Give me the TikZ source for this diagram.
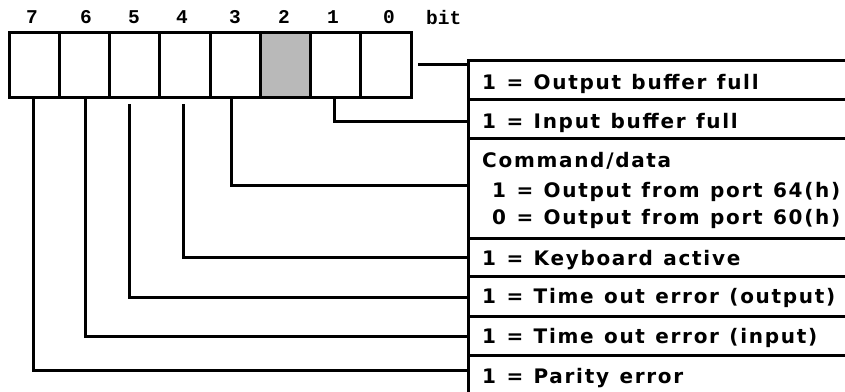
\documentclass[tikz,border=0pt]{standalone}
\usepackage{fontspec}
\setmainfont{DejaVu Sans}
\newfontfamily\lblfont{DejaVu Sans}[LetterSpace=8.5,WordSpace=1.2]
\newfontfamily\bitfont{Liberation Mono}
\begin{document}
\begin{tikzpicture}[x=1pt,y=-1pt,
  cell/.style={draw,line width=3pt,minimum width=50.25pt,minimum height=65pt,inner sep=0pt,outer sep=0pt},
  shaded/.style={cell,fill=gray!55},
  row/.style={draw,line width=3pt,anchor=north west,minimum width=420pt,inner sep=0pt,outer sep=0pt},
  conn/.style={line width=3pt,line join=miter},
  bitlbl/.style={anchor=base,inner sep=0pt,font=\bitfont\bfseries\fontsize{19.5}{22}\selectfont},
  txt/.style={anchor=base west,inner sep=0pt,font=\lblfont\bfseries\fontsize{20}{24}\selectfont}]
\useasboundingbox (0,0) rectangle (845,391);
% register cells
\node[cell] (c7) at (34.125,64.5) {};
\node[cell] (c6) at (84.375,64.5) {};
\node[cell] (c5) at (134.625,64.5) {};
\node[cell] (c4) at (184.875,64.5) {};
\node[cell] (c3) at (235.125,64.5) {};
\node[shaded] (c2) at (285.375,64.5) {};
\node[cell] (c1) at (335.625,64.5) {};
\node[cell] (c0) at (385.875,64.5) {};
% bit numbers
\node[bitlbl] (n7) at (32,23.5) {7};
\node[bitlbl] (n6) at (86,23.5) {6};
\node[bitlbl] (n5) at (134,23.5) {5};
\node[bitlbl] (n4) at (182,23.5) {4};
\node[bitlbl] (n3) at (235,23.5) {3};
\node[bitlbl] (n2) at (284,23.5) {2};
\node[bitlbl] (n1) at (333,23.5) {1};
\node[bitlbl] (n0) at (389,23.5) {0};
\node[bitlbl,anchor=base west] (nb) at (426,24.5) {bit};
% description rows
\node[row,minimum height=39pt] (r0) at (468,60) {};
\node[row,minimum height=39pt] (r1) at (468,99) {};
\node[row,minimum height=100pt] (r3) at (468,138) {};
\node[row,minimum height=38pt] (r4) at (468,238) {};
\node[row,minimum height=40pt] (r5) at (468,276) {};
\node[row,minimum height=39pt] (r6) at (468,316) {};
\node[row,minimum height=50pt] (r7) at (468,355) {};
% texts
\node[txt] (t0) at (482,89) {1 = Output buffer full};
\node[txt] (t1) at (482,128) {1 = Input buffer full};
\node[txt] (t3a) at (482,167) {Command/data};
\node[txt] (t3b) at (492,197) {1 = Output from port 64(h)};
\node[txt] (t3c) at (492,224) {0 = Output from port 60(h)};
\node[txt] (t4) at (482,265) {1 = Keyboard active};
\node[txt] (t5) at (482,303) {1 = Time out error (output)};
\node[txt] (t6) at (482,343) {1 = Time out error (input)};
\node[txt] (t7) at (482,383) {1 = Parity error};
% connectors
\draw[conn,shorten <=7pt] (c0.east) -- (c0.east -| r0.west);
\draw[conn] ([xshift=-1.5pt]c1.south) |- ([yshift=-2.5pt]r1.west);
\draw[conn] ([xshift=-4pt]c3.south) |- ([yshift=3pt]r3.west);
\draw[conn,shorten <=7pt] ([xshift=-1pt]c4.south) |- (r4.west);
\draw[conn,shorten <=7pt] ([xshift=-5.5pt]c5.south) |- ([yshift=-1pt]r5.west);
\draw[conn] ([xshift=1.5pt]c6.south) |- ([yshift=-0.5pt]r6.west);
\draw[conn] ([xshift=-1pt]c7.south) |- ([yshift=10pt]r7.west);
\end{tikzpicture}
\end{document}
